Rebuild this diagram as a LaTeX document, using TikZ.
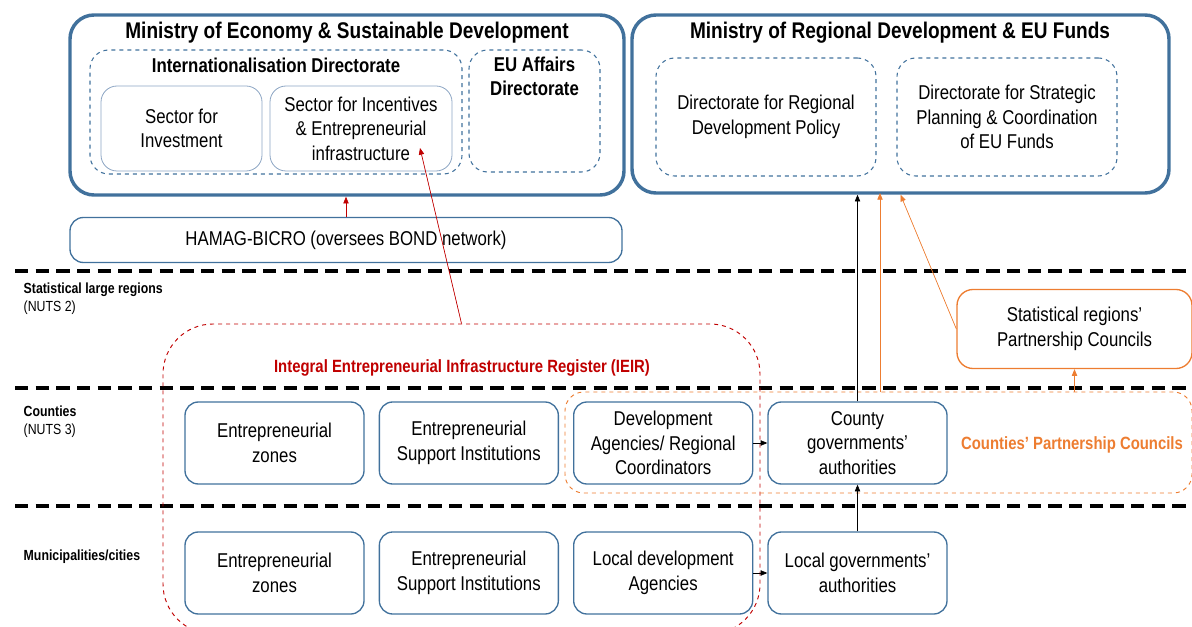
\documentclass[tikz,border=0pt]{standalone}
\usepackage{fontspec}
\setmainfont{Liberation Sans}[FakeStretch=0.84]
\usepackage{tikz}
\usetikzlibrary{positioning,arrows.meta}
\definecolor{mblue}{RGB}{65,113,156}
\definecolor{lblue}{RGB}{140,165,195}
\definecolor{morange}{RGB}{237,125,49}
\definecolor{mred}{RGB}{192,0,0}
\newcommand{\pxu}{0.75pt}

\begin{document}
\begin{tikzpicture}[
  x=0.75pt,y=-0.75pt,
  font=\fontsize{15}{18.4}\selectfont,
  ministry/.style={draw=mblue,line width=2.6pt,rounded corners=18pt},
  dirbox/.style={draw=mblue,dashed,line width=0.8pt,rounded corners=14pt},
  sectbox/.style={draw=lblue,line width=0.6pt,rounded corners=12pt,align=center},
  box/.style={draw=mblue,line width=1pt,rounded corners=10pt,align=center,
    minimum width=179*\pxu,minimum height=82*\pxu,inner sep=2pt},
  title/.style={font=\fontsize{17}{19}\selectfont\bfseries,align=center},
  level/.style={anchor=west,align=left,font=\fontsize{11}{13.5}\selectfont},
  layer/.style={line width=2.6pt,dash pattern=on 10pt off 5.5pt},
  arr/.style={-{Triangle[length=5pt,width=4pt]},line width=0.5pt},
  redarr/.style={arr,draw=mred,fill=mred},
  orarr/.style={arr,draw=morange,fill=morange}
]
\useasboundingbox (0,0) rectangle (1192,627);
\clip (0,0) rectangle (1192,627);

% ministries
\node[ministry,minimum width=554*\pxu,minimum height=180*\pxu] (econ) at (347,105) {};
\node[title] at (347,33) {Ministry of Economy \& Sustainable Development};
\node[dirbox,minimum width=372*\pxu,minimum height=124*\pxu] (intl) at (276,112) {};
\node[title,font=\fontsize{15}{17}\selectfont\bfseries] at (276,65) {Internationalisation Directorate};
\node[dirbox,minimum width=131*\pxu,minimum height=122*\pxu] (euaff) at (534.5,111) {};
\node[title,font=\fontsize{15}{18.4}\selectfont\bfseries,anchor=north] at (534.5,52) {EU Affairs\\Directorate};
\node[sectbox,minimum width=161*\pxu,minimum height=85*\pxu] (secinv) at (181.5,128.5) {Sector for\\Investment};
\node[sectbox,minimum width=182*\pxu,minimum height=85*\pxu] (secinc) at (361,128.5) {Sector for Incentives\\\& Entrepreneurial\\infrastructure};

\node[ministry,minimum width=537*\pxu,minimum height=178*\pxu] (regio) at (900.5,104) {};
\node[title] at (900,33) {Ministry of Regional Development \& EU Funds};
\node[dirbox,align=center,minimum width=220*\pxu,minimum height=118*\pxu] (dirpol) at (766,117) {Directorate for Regional\\Development Policy};
\node[dirbox,align=center,minimum width=220*\pxu,minimum height=118*\pxu] (dirstrat) at (1007,117) {Directorate for Strategic\\Planning \& Coordination\\of EU Funds};

\node[box,minimum width=552*\pxu,minimum height=45*\pxu] (hamag) at (346,240) {HAMAG-BICRO (oversees BOND network)};

% levels
\draw[layer] (15,271) -- (1192,271);
\draw[layer] (15,388) -- (1192,388);
\draw[layer] (15,506) -- (1192,506);
\node[level] at (19,299) {\textbf{Statistical large regions}\\(NUTS 2)};
\node[level] at (19,422) {\textbf{Counties}\\(NUTS 3)};
\node[level] at (19,557) {\textbf{Municipalities/cities}};

% registers and councils
\node[draw=mred,dashed,line width=0.7pt,rounded corners=37.5pt,minimum width=597*\pxu,minimum height=310*\pxu] (ieir) at (461.5,479) {};
\node[text=mred,font=\fontsize{13.3}{15}\selectfont\bfseries] at (462,368) {Integral Entrepreneurial Infrastructure Register (IEIR)};
\node[draw=morange,dashed,line width=0.7pt,rounded corners=14pt,minimum width=627*\pxu,minimum height=101*\pxu] (cpc) at (878.5,442.5) {};
\node[text=morange,font=\fontsize{13.3}{15}\selectfont\bfseries] at (1072,445) {Counties’ Partnership Councils};
\node[draw=morange,line width=1pt,rounded corners=12pt,align=center,minimum width=235*\pxu,minimum height=79*\pxu] (statpc) at (1074.5,329) {Statistical regions’\\Partnership Councils};

% counties
\node[box] (ezc) at (274.5,443) {Entrepreneurial\\zones};
\node[box,right=10.5pt of ezc] (esic) {Entrepreneurial\\Support Institutions};
\node[box,right=10.5pt of esic] (devag) {Development\\Agencies/ Regional\\Coordinators};
\node[box,right=10.5pt of devag] (county) {County\\governments’\\authorities};

% municipalities
\node[box] (ezm) at (274.5,573) {Entrepreneurial\\zones};
\node[box,right=10.5pt of ezm] (esim) {Entrepreneurial\\Support Institutions};
\node[box,right=10.5pt of esim] (locdev) {Local development\\Agencies};
\node[box,right=10.5pt of locdev] (locgov) {Local governments’\\authorities};

\coordinate (incarr) at (420,148);
\coordinate (cpcup) at (880,392);
\coordinate (regioup) at (880,193);

\draw[redarr] (hamag.north) -- (hamag.north |- econ.south);
\draw[redarr] (ieir.north) -- (incarr);
\draw[arr] (devag) -- (county);
\draw[arr] (locdev) -- (locgov);
\draw[arr] (locgov) -- (county);
\draw[arr] (county.north) -- (county.north |- regio.south);
\draw[orarr] (cpcup) -- (regioup);
\draw[orarr] (statpc.west) -- (regio.south);
\draw[orarr] (statpc.south |- cpc.north) -- (statpc.south);
\end{tikzpicture}
\end{document}
